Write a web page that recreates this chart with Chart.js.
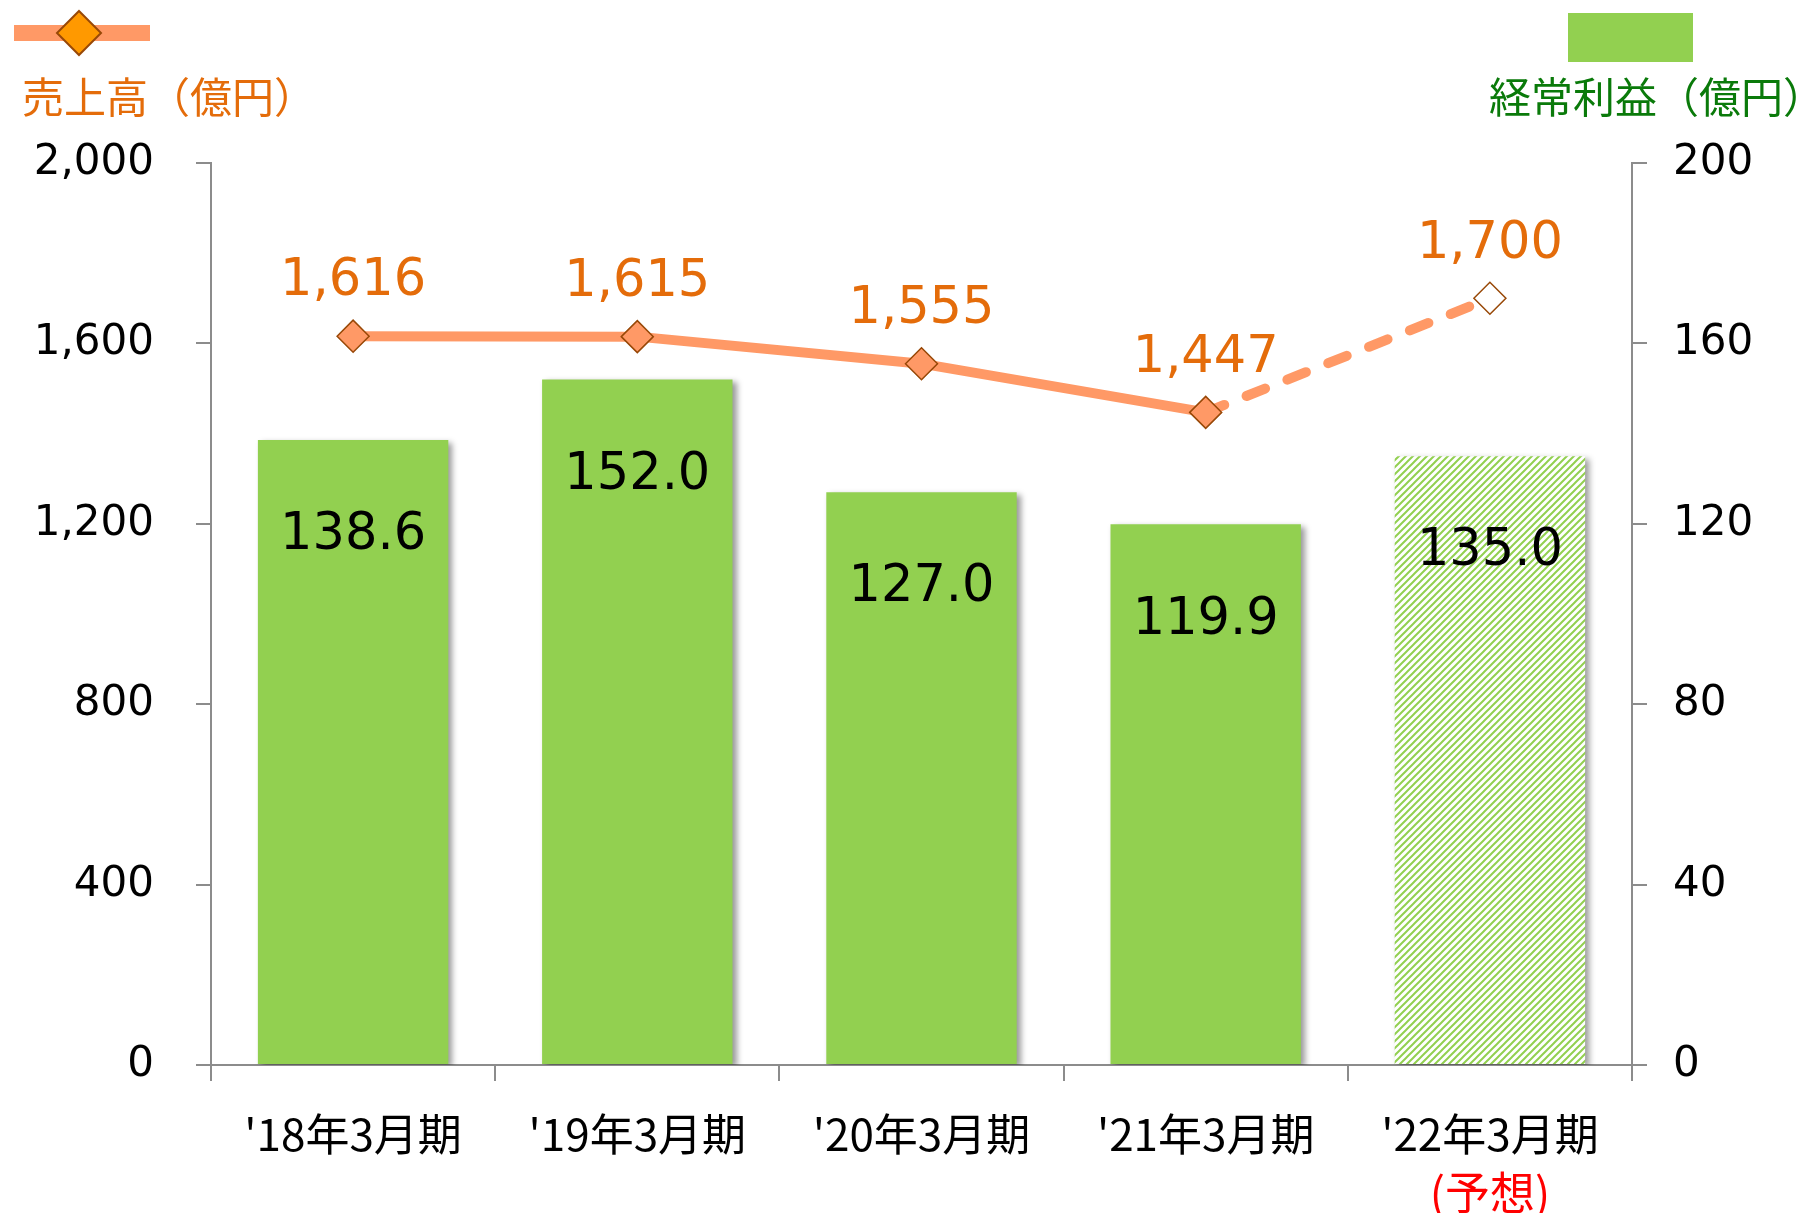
<!DOCTYPE html>
<html lang="ja">
<head>
<meta charset="utf-8">
<title>売上高・経常利益の推移</title>
<script src="https://cdn.jsdelivr.net/npm/chart.js@4.4.1/dist/chart.umd.min.js"></script>
<style>
  html, body { margin: 0; padding: 0; background: #fff; }
  #wrap { position: relative; width: 1807px; height: 1213px; overflow: hidden; }
  #wrap canvas { position: absolute; left: 0; top: 0; }
  .cap { position: absolute; font-family: "Noto Sans CJK JP", sans-serif; line-height: 1; white-space: nowrap; }
  #capSales { left: 22px; top: 74px; font-size: 42px; color: #E46C0A; }
  #capProfit { left: 1489px; top: 74px; font-size: 42px; color: #0A7A0A; }
  #forecast { left: 1390px; width: 200px; top: 1168px; text-align: center; font-size: 45px; color: #FF0000; }
</style>
</head>
<body>
<div id="wrap">
  <canvas id="chart"></canvas>
  <div class="cap" id="capSales">売上高（億円）</div>
  <div class="cap" id="capProfit">経常利益（億円）</div>
  <div class="cap" id="forecast">(予想)</div>
</div>
<script>
// data
const periods = ["'18年3月期", "'19年3月期", "'20年3月期", "'21年3月期", "'22年3月期"];
const sales = [1616, 1615, 1555, 1447, 1700];      // 売上高（億円） left axis
const profit = [138.6, 152.0, 127.0, 119.9, 135.0]; // 経常利益（億円） right axis
const forecastIndex = 4;                           // '22年3月期 is a forecast
const salesAxis = [0, 2000, 400];
const profitAxis = [0, 200, 40];

const ORANGE_LINE = '#FF9966';
const ORANGE_TEXT = '#E46C0A';
const BROWN = '#984807';
const GREEN = '#92D050';
const AXIS = '#8C8C8C';

function hatch(color) {
    const n = 7;
    const c = document.createElement('canvas');
    c.width = n; c.height = n;
    const g = c.getContext('2d');
    g.fillStyle = '#fff';
    g.fillRect(0, 0, n, n);
    g.strokeStyle = color;
    g.lineWidth = 2;
    g.beginPath();
    g.moveTo(-1, n + 1); g.lineTo(n + 1, -1);
    g.moveTo(-2, 2); g.lineTo(2, -2);
    g.moveTo(n - 2, n + 2); g.lineTo(n + 2, n - 2);
    g.stroke();
    return g.createPattern(c, 'repeat');
}

const barFill = profit.map((v, i) => i === forecastIndex ? hatch(GREEN) : GREEN);

// gray drop shadow behind the bars
const barShadow = {
    id: 'barShadow',
    beforeDatasetDraw(chart, args) {
        if (args.meta.type !== 'bar') return;
        const ctx = chart.ctx;
        ctx.save();
        ctx.shadowColor = 'rgba(0,0,0,0.4)';
        ctx.shadowBlur = 6;
        ctx.shadowOffsetX = 4;
        ctx.shadowOffsetY = 3;
    },
    afterDatasetDraw(chart, args) {
        if (args.meta.type !== 'bar') return;
        chart.ctx.restore();
    }
};

// value labels above points / inside bars
const valueLabels = {
    id: 'valueLabels',
    afterDatasetsDraw(chart) {
        const ctx = chart.ctx;
        ctx.save();
        ctx.textAlign = 'center';
        ctx.textBaseline = 'middle';
        ctx.font = '51px "DejaVu Sans"';
        ctx.fillStyle = '#000';
        chart.getDatasetMeta(1).data.forEach((bar, i) => {
            ctx.fillText(profit[i].toFixed(1), bar.x, bar.y + 96);
        });
        ctx.fillStyle = ORANGE_TEXT;
        chart.getDatasetMeta(0).data.forEach((pt, i) => {
            ctx.fillText(sales[i].toLocaleString('en-US'), pt.x, pt.y - 54);
        });
        ctx.restore();
    }
};

// legend keys in the corners
const legendKeys = {
    id: 'legendKeys',
    afterDraw(chart) {
        const ctx = chart.ctx;
        ctx.save();
        ctx.fillStyle = ORANGE_LINE;
        ctx.fillRect(14, 25, 136, 16);
        ctx.beginPath();
        ctx.moveTo(79, 11); ctx.lineTo(101, 33); ctx.lineTo(79, 55); ctx.lineTo(57, 33);
        ctx.closePath();
        ctx.fillStyle = '#FF9900';
        ctx.fill();
        ctx.strokeStyle = BROWN;
        ctx.lineWidth = 2;
        ctx.stroke();
        ctx.fillStyle = GREEN;
        ctx.fillRect(1568, 13, 125, 49);
        ctx.restore();
    }
};

new Chart(document.getElementById('chart'), {
    data: {
        labels: periods,
        datasets: [{
            type: 'line',
            label: '売上高',
            data: sales,
            yAxisID: 'y',
            order: 0,
            borderColor: ORANGE_LINE,
            borderWidth: 10,
            borderCapStyle: 'round',
            tension: 0,
            segment: {
                borderDash: ctx => ctx.p1DataIndex === forecastIndex ? [20, 24] : undefined
            },
            pointStyle: 'rectRot',
            pointRadius: 16,
            pointBackgroundColor: sales.map((v, i) => i === forecastIndex ? '#fff' : ORANGE_LINE),
            pointBorderColor: BROWN,
            pointBorderWidth: 1.5
        }, {
            type: 'bar',
            label: '経常利益',
            data: profit,
            yAxisID: 'y2',
            order: 1,
            backgroundColor: barFill,
            borderWidth: 0,
            categoryPercentage: 1,
            barPercentage: 0.67
        }]
    },
    options: {
        responsive: true,
        maintainAspectRatio: false,
        animation: false,
        layout: { padding: { top: 163, left: 0, right: 0, bottom: 0 } },
        plugins: { legend: { display: false }, tooltip: { enabled: false } },
        scales: {
            x: {
                afterFit: s => { s.height = 148; },
                grid: { display: true, drawOnChartArea: false, tickLength: 16, color: AXIS, lineWidth: 2, offset: true },
                border: { color: AXIS, width: 2 },
                ticks: { color: '#000', padding: 27, maxRotation: 0, font: { family: '"Noto Sans CJK JP"', size: 44 } }
            },
            y: {
                position: 'left',
                min: salesAxis[0], max: salesAxis[1],
                afterFit: s => { s.width = 211; },
                grid: { drawOnChartArea: false, tickLength: 15, color: AXIS, lineWidth: 2 },
                border: { color: AXIS, width: 2 },
                ticks: {
                    stepSize: salesAxis[2], color: '#000', padding: 42,
                    font: { family: '"DejaVu Sans"', size: 42 },
                    callback: v => v.toLocaleString('en-US')
                }
            },
            y2: {
                position: 'right',
                min: profitAxis[0], max: profitAxis[1],
                afterFit: s => { s.width = 175; },
                grid: { drawOnChartArea: false, tickLength: 15, color: AXIS, lineWidth: 2 },
                border: { color: AXIS, width: 2 },
                ticks: {
                    stepSize: profitAxis[2], color: '#000', padding: 26,
                    font: { family: '"DejaVu Sans"', size: 42 }
                }
            }
        }
    },
    plugins: [barShadow, valueLabels, legendKeys]
});
</script>
</body>
</html>
